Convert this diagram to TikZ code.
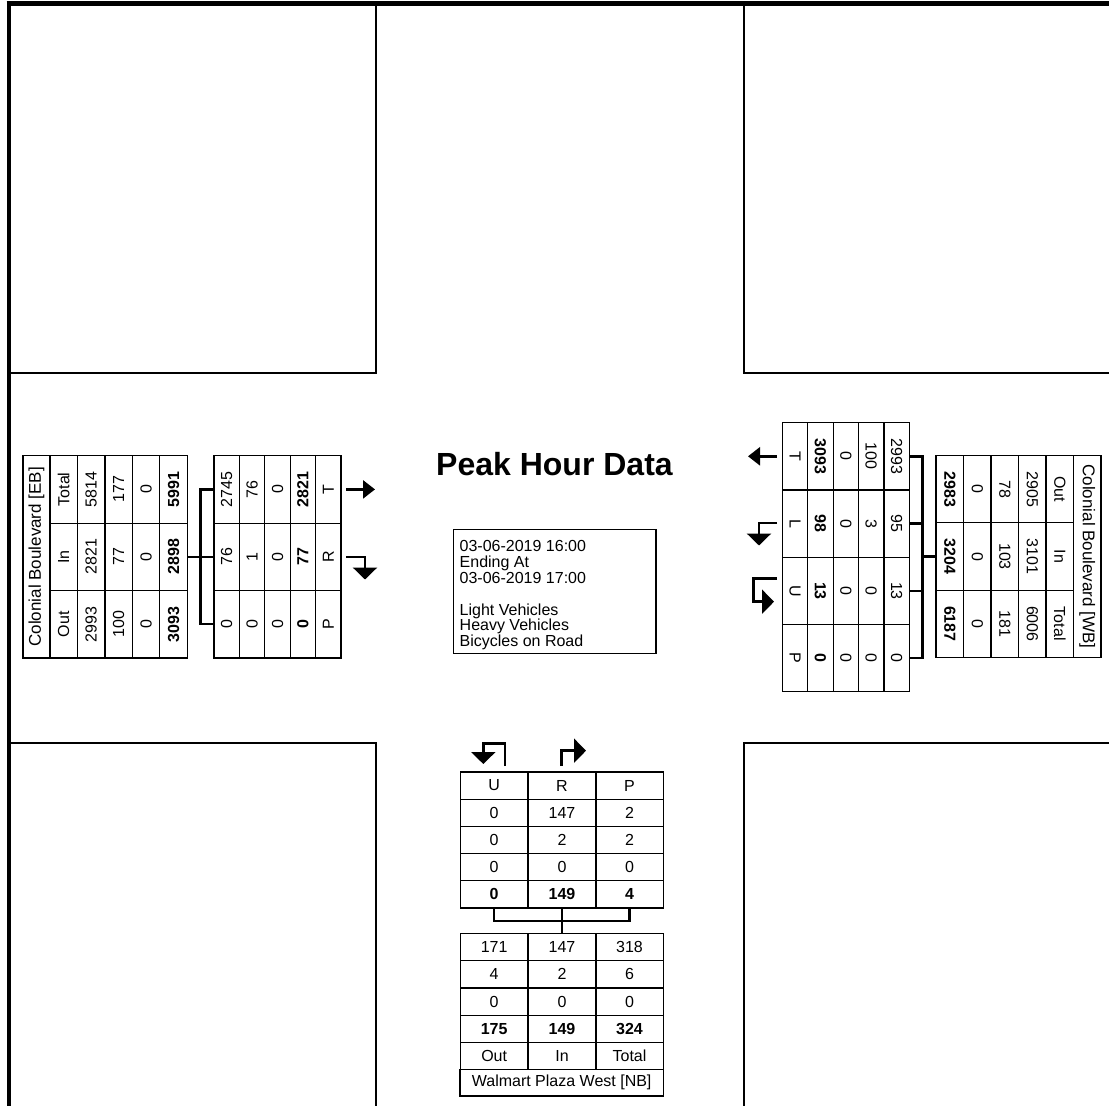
\documentclass[tikz,border=0pt]{standalone}
\usepackage{fontspec}
\setmainfont{Liberation Sans}
\usetikzlibrary{arrows.meta}
\begin{document}
\begin{tikzpicture}[x=1pt,y=-1pt,
  cell/.style={draw, line width=1.2pt, inner sep=0pt, font=\fontsize{16}{18}\selectfont},
  bfc/.style={font=\fontsize{16}{18}\selectfont\bfseries},
  hdr/.style={font=\fontsize{17}{19}\selectfont},
  lc/.style={cell, rotate=90, minimum width=67.4pt, minimum height=27.46pt},
  lm/.style={cell, rotate=90, minimum width=67.4pt, minimum height=25.4pt},
  rc/.style={cell, rotate=-90, minimum width=67.3pt, minimum height=27.5pt},
  rm/.style={cell, rotate=-90, minimum width=67.3pt, minimum height=25.4pt},
  bc/.style={cell, minimum width=67.8pt, minimum height=27.2pt},
  br/.style={line width=2.5pt, line cap=rect},
  blk/.style={line width=2pt},
  arr/.style={line width=2.5pt, -{Triangle[width=18pt,length=12pt]}},
  tarr/.style={line width=2.5pt, line join=miter, -{Triangle[width=24pt,length=12pt]}}
]
\useasboundingbox (0,0) rectangle (1109,1106);
\clip (0,0) rectangle (1109,1106);

% outer frame and corner blocks
\draw[line width=5pt] (6.6,3.5) -- (1115,3.5);
\draw[line width=4.4pt] (8.8,1) -- (8.8,1115);
\draw[blk] (375.7,3.5) -- (375.7,373.3) -- (9,373.3);
\draw[blk] (744.3,3.5) -- (744.3,373.3) -- (1115,373.3);
\draw[blk] (9,742.7) -- (375.7,742.7) -- (375.7,1115);
\draw[blk] (744.3,1115) -- (744.3,742.7) -- (1115,742.7);

% title and info box
\node[font=\fontsize{32}{36}\selectfont\bfseries, anchor=base, inner sep=0pt] (title) at (554.5,475) {Peak Hour Data};
\node[draw, line width=1.2pt, minimum width=202.7pt, minimum height=124pt, inner sep=0pt] (info) at (554.65,591.3) {};
\node[anchor=north west, align=left, inner sep=0pt, font=\fontsize{16}{15.8}\selectfont] (infotext) at (459.5,540.6)
  {03-06-2019 16:00\\Ending At\\03-06-2019 17:00\\[15.8pt]Light Vehicles\\Heavy Vehicles\\Bicycles on Road};

% ===== West side (EB) =====
\node[lc, hdr, minimum width=202.2pt, minimum height=27pt] (ebh) at (36.5,556.8) {Colonial Boulevard [EB]};
\foreach \x/\a/\b/\c [count=\i] in {63.73/Total/In/Out, 91.19/5814/2821/2993, 118.65/177/77/100, 146.11/0/0/0}{
  \node[lc] (ebs-\i-1) at (\x,489.4) {\a};
  \node[lc] (ebs-\i-2) at (\x,556.8) {\b};
  \node[lc] (ebs-\i-3) at (\x,624.2) {\c};
}
\node[lc, bfc] (ebs-5-1) at (173.57,489.4) {5991};
\node[lc, bfc] (ebs-5-2) at (173.57,556.8) {2898};
\node[lc, bfc] (ebs-5-3) at (173.57,624.2) {3093};

\foreach \x/\a/\b/\c [count=\i] in {226.7/2745/76/0, 252.1/76/1/0, 277.5/0/0/0}{
  \node[lm] (ebm-\i-1) at (\x,489.4) {\a};
  \node[lm] (ebm-\i-2) at (\x,556.8) {\b};
  \node[lm] (ebm-\i-3) at (\x,624.2) {\c};
}
\node[lm, bfc] (ebm-4-1) at (302.9,489.4) {2821};
\node[lm, bfc] (ebm-4-2) at (302.9,556.8) {77};
\node[lm, bfc] (ebm-4-3) at (302.9,624.2) {0};
\node[lm] (ebm-5-1) at (328.3,489.4) {T};
\node[lm] (ebm-5-2) at (328.3,556.8) {R};
\node[lm] (ebm-5-3) at (328.3,624.2) {P};

\coordinate (ebj) at (200.7,556.8);
\draw[br] (ebs-5-2.south) -- (ebj);
\draw[br] (ebm-1-1.north) -- (ebm-1-1.north -| ebj) -- (ebm-1-3.north -| ebj) -- (ebm-1-3.north);
\draw[br] (ebm-1-2.north) -- (ebm-1-2.north -| ebj);

\coordinate (ebTa) at (346,489.4);
\coordinate (ebTb) at (375,489.4);
\draw[arr] (ebTa) -- (ebTb);
\coordinate (ebRa) at (346,556.8);
\coordinate (ebRb) at (365,579.5);
\draw[tarr] (ebRa) -| (ebRb);

% ===== East side (WB) =====
\node[rm] (wbm-1-1) at (795,456.3) {T};
\node[rm] (wbm-1-2) at (795,523.6) {L};
\node[rm] (wbm-1-3) at (795,590.9) {U};
\node[rm] (wbm-1-4) at (795,658.2) {P};
\node[rm, bfc] (wbm-2-1) at (820.4,456.3) {3093};
\node[rm, bfc] (wbm-2-2) at (820.4,523.6) {98};
\node[rm, bfc] (wbm-2-3) at (820.4,590.9) {13};
\node[rm, bfc] (wbm-2-4) at (820.4,658.2) {0};
\foreach \x/\a/\b/\c/\d [count=\j from 3] in {845.8/0/0/0/0, 871.2/100/3/0/0, 896.6/2993/95/13/0}{
  \node[rm] (wbm-\j-1) at (\x,456.3) {\a};
  \node[rm] (wbm-\j-2) at (\x,523.6) {\b};
  \node[rm] (wbm-\j-3) at (\x,590.9) {\c};
  \node[rm] (wbm-\j-4) at (\x,658.2) {\d};
}

\node[rc, bfc] (wbs-1-1) at (949.75,489.2) {2983};
\node[rc, bfc] (wbs-1-2) at (949.75,556.5) {3204};
\node[rc, bfc] (wbs-1-3) at (949.75,623.8) {6187};
\foreach \x/\a/\b/\c [count=\j from 2] in {977.25/0/0/0, 1004.75/78/103/181, 1032.25/2905/3101/6006, 1059.75/Out/In/Total}{
  \node[rc] (wbs-\j-1) at (\x,489.2) {\a};
  \node[rc] (wbs-\j-2) at (\x,556.5) {\b};
  \node[rc] (wbs-\j-3) at (\x,623.8) {\c};
}
\node[rc, hdr, minimum width=201.9pt, minimum height=27.5pt] (wbh) at (1087.25,556.5) {Colonial Boulevard [WB]};

\coordinate (wbj) at (922.7,556.5);
\draw[br] (wbs-1-2.south) -- (wbj);
\draw[br] (wbm-5-1.north) -- (wbm-5-1.north -| wbj) -- (wbm-5-4.north -| wbj) -- (wbm-5-4.north);
\draw[br] (wbm-5-2.north) -- (wbm-5-2.north -| wbj);
\draw[br] (wbm-5-3.north) -- (wbm-5-3.north -| wbj);

\coordinate (wbTa) at (777,456.3);
\coordinate (wbTb) at (748,456.3);
\draw[arr] (wbTa) -- (wbTb);
\coordinate (wbLa) at (777,522.8);
\coordinate (wbLb) at (759,545.5);
\draw[tarr] (wbLa) -| (wbLb);
\coordinate (wbUa) at (777,578.3);
\coordinate (wbUb) at (753.3,578.3);
\coordinate (wbUc) at (753.3,601.7);
\coordinate (wbUd) at (774,601.7);
\draw[tarr] (wbUa) -- (wbUb) -- (wbUc) -- (wbUd);

% ===== South side (NB) =====
\foreach \x/\a/\b/\c/\d/\e [count=\i] in {494.15/U/0/0/0/0, 562/R/147/2/0/149, 629.5/P/2/2/0/4}{
  \node[bc] (nbu-\i-1) at (\x,785.5) {\a};
  \node[bc] (nbu-\i-2) at (\x,812.7) {\b};
  \node[bc] (nbu-\i-3) at (\x,839.9) {\c};
  \node[bc] (nbu-\i-4) at (\x,867.1) {\d};
  \node[bc, bfc] (nbu-\i-5) at (\x,894.3) {\e};
}
\foreach \x/\a/\b/\c/\d/\e [count=\i] in {494.15/171/4/0/175/Out, 562/147/2/0/149/In, 629.5/318/6/0/324/Total}{
  \node[bc] (nbl-\i-1) at (\x,947.2) {\a};
  \node[bc] (nbl-\i-2) at (\x,974.4) {\b};
  \node[bc] (nbl-\i-3) at (\x,1001.6) {\c};
  \node[bc, bfc] (nbl-\i-4) at (\x,1028.8) {\d};
  \node[bc] (nbl-\i-5) at (\x,1056) {\e};
}
\node[bc, minimum width=203.3pt, minimum height=26.4pt] (nbh) at (561.65,1082.8) {Walmart Plaza West [NB]};

\coordinate (nbj) at (562,921);
\draw[br] (nbu-1-5.south) -- (nbu-1-5.south |- nbj) -- (nbu-3-5.south |- nbj) -- (nbu-3-5.south);
\draw[br] (nbu-2-5.south) -- (nbl-2-1.north);

\coordinate (nbUa) at (505,766);
\coordinate (nbUb) at (505,743.3);
\coordinate (nbUc) at (483.3,743.3);
\coordinate (nbUd) at (483.3,764);
\draw[tarr] (nbUa) -- (nbUb) -- (nbUc) -- (nbUd);
\coordinate (nbRa) at (561.7,766);
\coordinate (nbRb) at (586,750.7);
\draw[tarr] (nbRa) |- (nbRb);
\end{tikzpicture}
\end{document}
